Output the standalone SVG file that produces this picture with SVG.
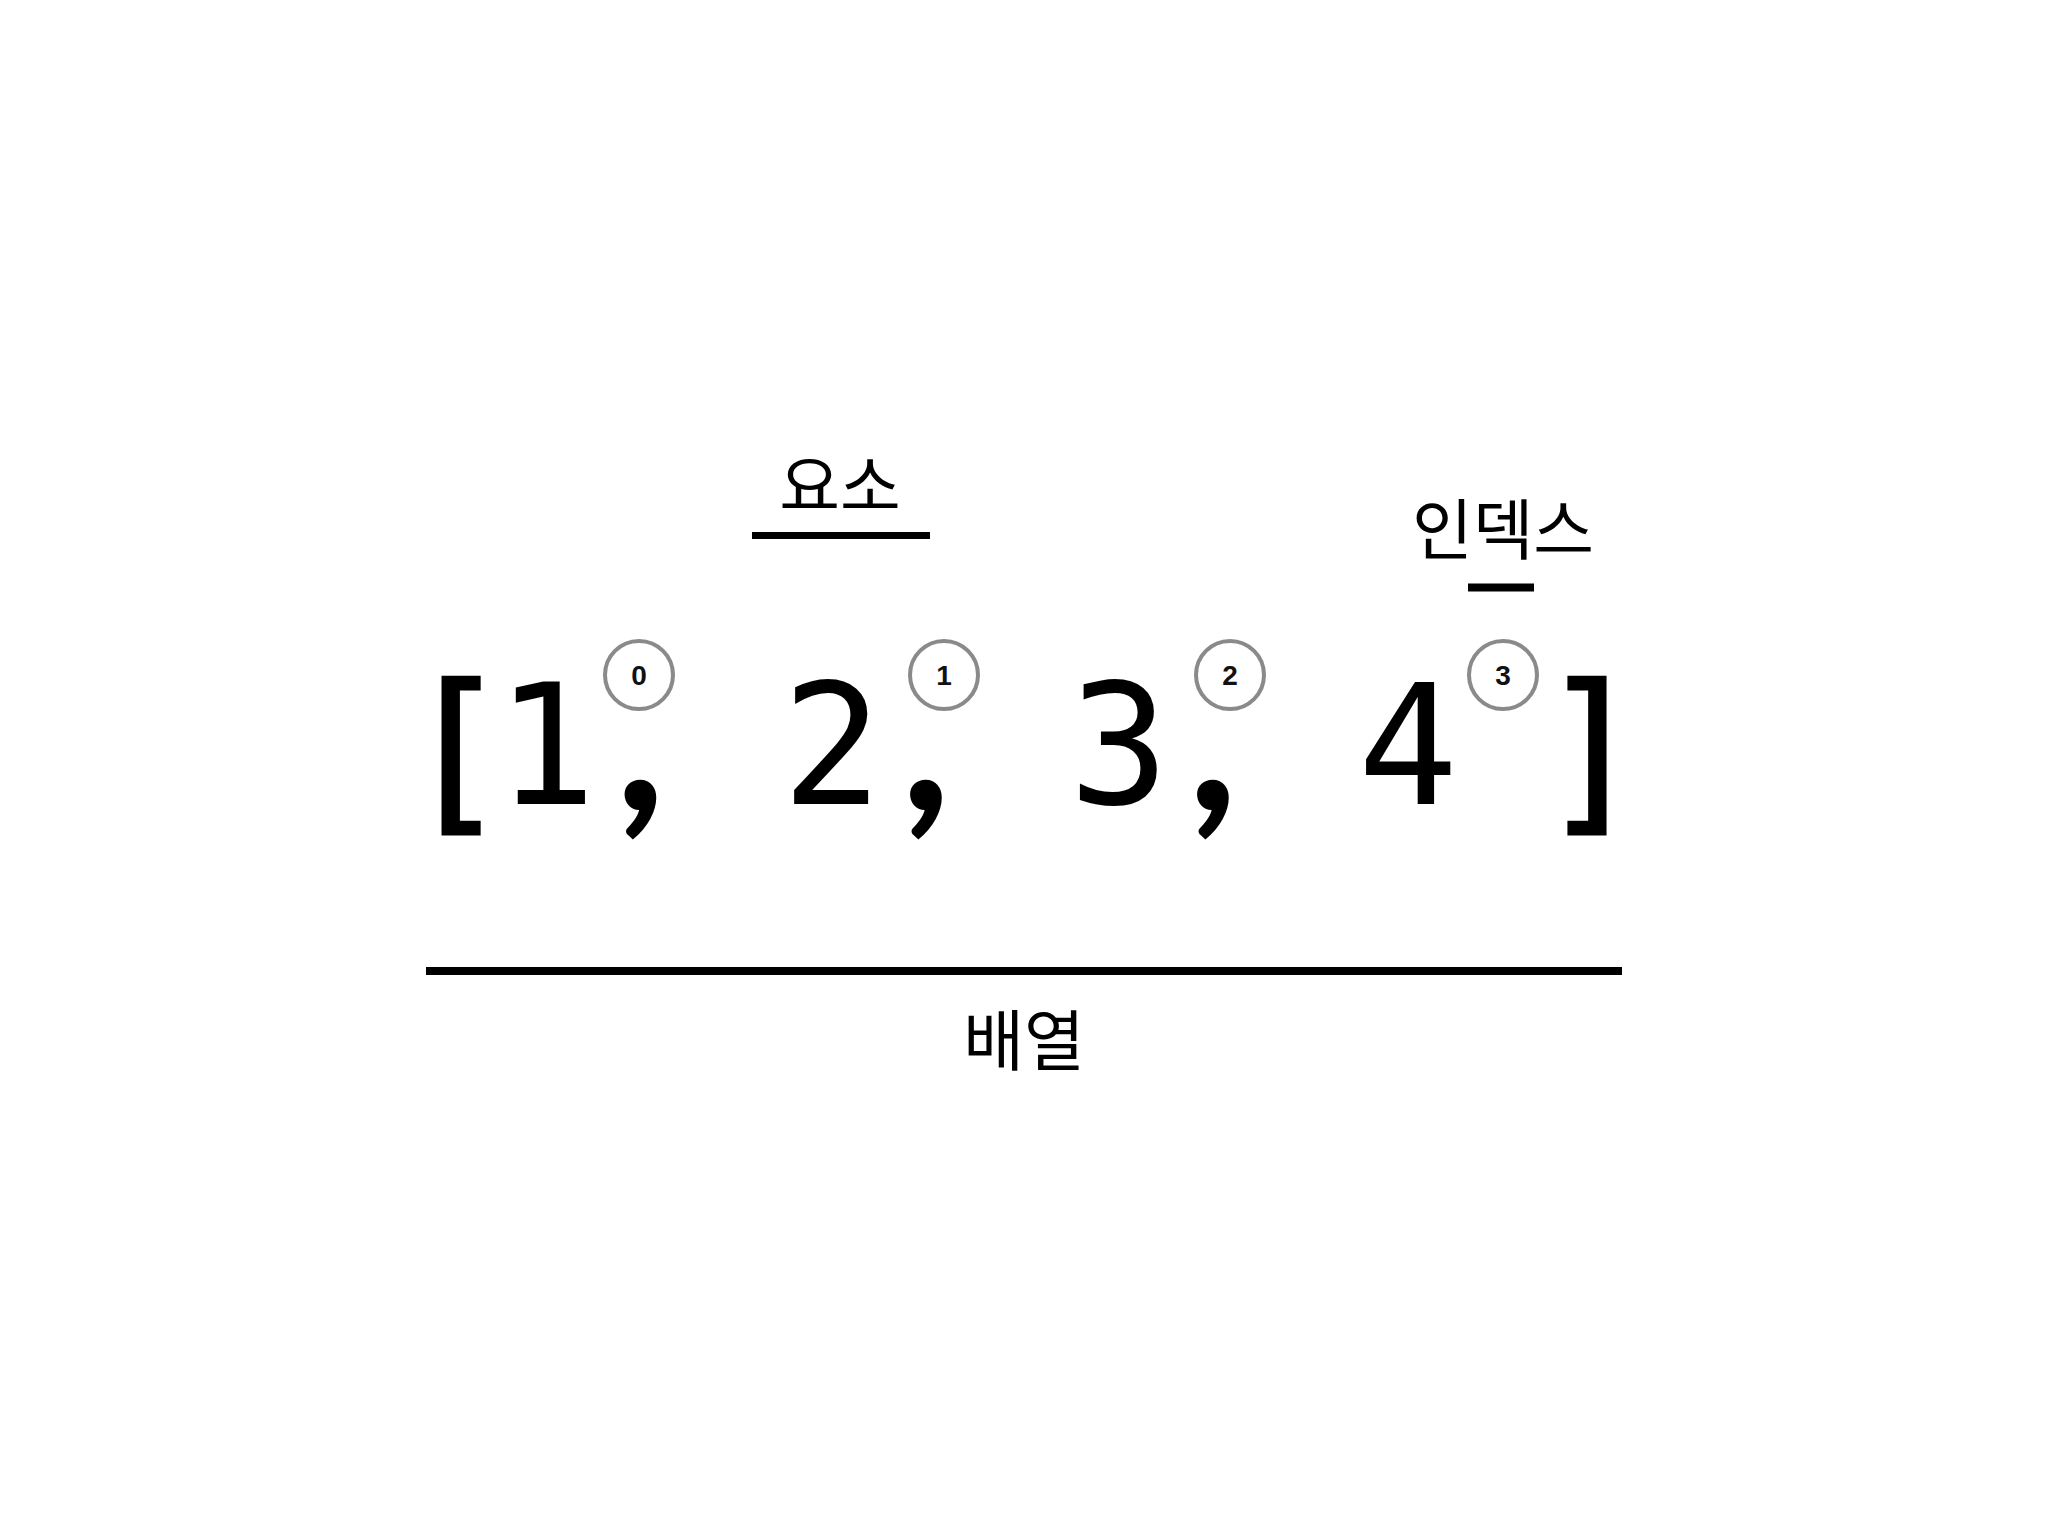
<svg xmlns="http://www.w3.org/2000/svg" width="2048" height="1536" viewBox="0 0 2048 1536">
<style>
.arr{font-family:"DejaVu Sans Mono","Liberation Mono",monospace;font-size:167px;fill:#000;text-anchor:middle}
.br{font-size:177px;stroke:#000;stroke-width:2.5}
.cm{font-family:Lato,"DejaVu Sans",sans-serif;font-weight:900;font-size:200px}
.lbl{font-family:"Noto Sans CJK KR","Noto Sans",sans-serif;font-size:66px;fill:#000;text-anchor:middle}
.idx circle{fill:none;stroke:#8a8a8a;stroke-width:4}
.idx text{font-family:"Liberation Sans",Arial,sans-serif;font-weight:bold;font-size:28px;fill:#111;text-anchor:middle}
.rule{stroke:#000;stroke-width:8}
</style>
<rect width="2048" height="1536" fill="#fff"/>
<g id="array-text">
<text class="arr" y="804"><tspan class="br" x="456" y="811">[</tspan><tspan x="546" y="804">1</tspan><tspan class="cm" x="640.5" y="810">,</tspan><tspan x="736" y="804"> </tspan><tspan x="832">2</tspan><tspan class="cm" x="926" y="810">,</tspan><tspan x="1022" y="804"> </tspan><tspan x="1119">3</tspan><tspan class="cm" x="1213" y="810">,</tspan><tspan x="1310" y="804"> </tspan><tspan x="1408">4</tspan><tspan class="br" x="1592" y="811">]</tspan></text>
</g>
<g id="index-0" class="idx"><circle cx="639" cy="675" r="34"/><text x="639" y="685">0</text></g>
<g id="index-1" class="idx"><circle cx="944" cy="675" r="34"/><text x="944" y="685">1</text></g>
<g id="index-2" class="idx"><circle cx="1230" cy="675" r="34"/><text x="1230" y="685">2</text></g>
<g id="index-3" class="idx"><circle cx="1503" cy="675" r="34"/><text x="1503" y="685">3</text></g>
<g id="label-element"><text class="lbl" x="840" y="510">요소</text></g>
<g id="label-index"><text class="lbl" x="1503" y="554">인덱스</text></g>
<g id="label-array"><text class="lbl" x="1024" y="1065">배열</text></g>
<g id="connectors">
<line class="rule" x1="752" y1="535.5" x2="930" y2="535.5" style="stroke-width:7"/>
<line class="rule" x1="1468" y1="587.5" x2="1534" y2="587.5"/>
<line class="rule" x1="426" y1="971" x2="1622" y2="971"/>
</g>
</svg>
